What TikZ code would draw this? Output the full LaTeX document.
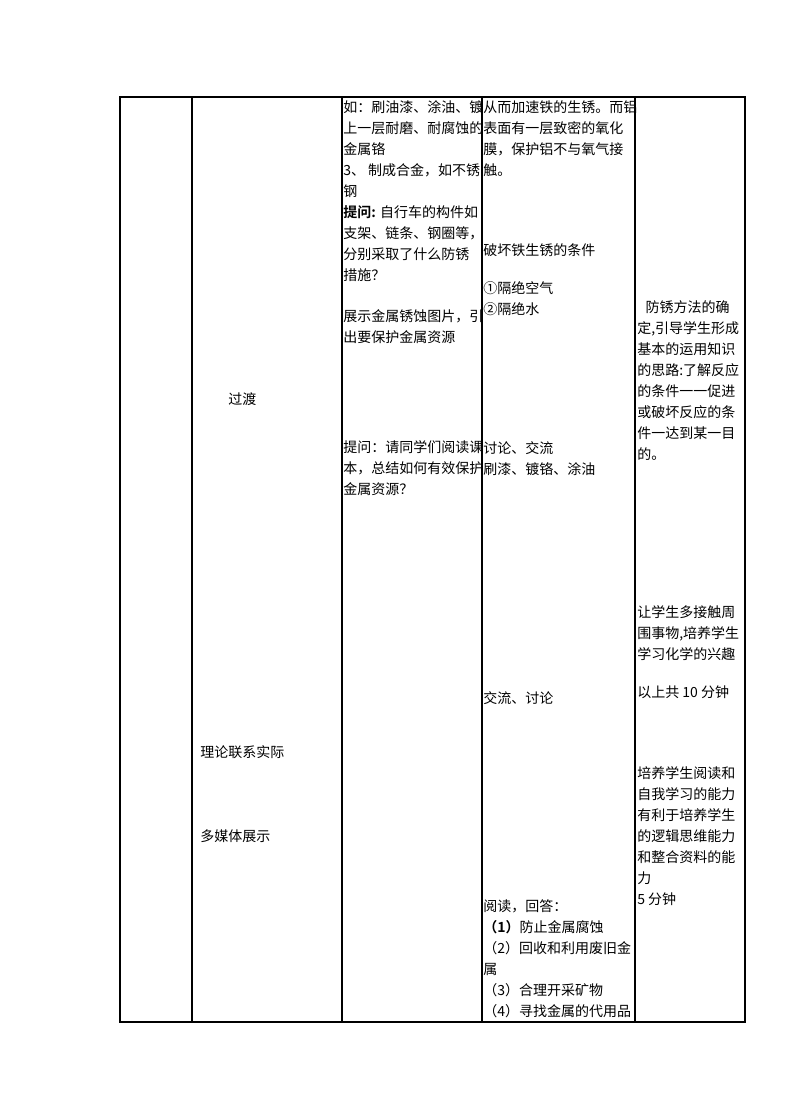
\documentclass[tikz,border=0pt]{standalone}
\usepackage{fontspec}
\newfontfamily\cjk{Noto Sans CJK SC}[BoldFont={Noto Sans CJK SC Bold}]
\begin{document}
\begin{tikzpicture}[
						x=0.75pt, y=-0.75pt,
						cell/.style={anchor=north west, inner sep=0pt, align=left,
							font=\cjk\fontsize{10.5}{15.75}\selectfont},
						rule/.style={line width=1.1pt}
					]

\useasboundingbox (0,0) rectangle (794,1119);

% table frame
\draw[rule] (120,97) rectangle (745,1022);
\foreach \x in {192,342,482,635}
	\draw[rule] (\x,97) -- (\x,1022);

% second column
\node (guodu) [cell] at (228,392) {过渡};
\node (lilun) [cell] at (200,745) {理论联系实际};
\node (meiti) [cell] at (200,829) {多媒体展示};

% teacher column
\node (ru) [cell] at (343,100) {如：刷油漆、涂油、镀\\上一层耐磨、耐腐蚀的\\金属铬\\3、 制成合金，如不锈\\钢\\\textbf{提问:} 自行车的构件如\\支架、链条、钢圈等，\\分别采取了什么防锈\\措施？};
\node (zhanshi) [cell] at (343,309) {展示金属锈蚀图片，引\\出要保护金属资源};
\node (tiwen) [cell] at (343,440) {提问：请同学们阅读课\\本，总结如何有效保护\\金属资源？};

% student column
\node (lv) [cell] at (483,100) {从而加速铁的生锈。而铝\\表面有一层致密的氧化\\膜，保护铝不与氧气接\\触。};
\node (pohuai) [cell] at (483,243) {破坏铁生锈的条件};
\node (gejue) [cell] at (483,281) {①隔绝空气\\②隔绝水};
\node (taolun) [cell] at (483,441) {讨论、交流\\刷漆、镀铬、涂油};
\node (jiaoliu) [cell] at (483,691) {交流、讨论};
\node (yuedu) [cell] at (483,899) {阅读，回答：\\\textbf{（1）}防止金属腐蚀\\（2）回收和利用废旧金\\属\\（3）合理开采矿物\\（4）寻找金属的代用品};

% intent column
\node (fangxiu) [cell] at (637,300) {\hspace{0.6em}防锈方法的确\\定,引导学生形成\\基本的运用知识\\的思路:了解反应\\的条件一一促进\\或破坏反应的条\\件一达到某一目\\的。};
\node (jiechu) [cell] at (637,605) {让学生多接触周\\围事物,培养学生\\学习化学的兴趣};
\node (shifen) [cell] at (637,685) {以上共 10 分钟};
\node (peiyang) [cell] at (637,766) {培养学生阅读和\\自我学习的能力\\有利于培养学生\\的逻辑思维能力\\和整合资料的能\\力\\5 分钟};

\end{tikzpicture}
\end{document}
